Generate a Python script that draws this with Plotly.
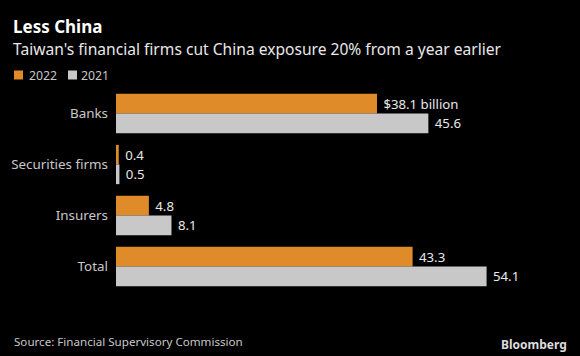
import plotly.graph_objects as go

categories = ["Banks", "Securities firms", "Insurers", "Total"]
values_2022 = [38.1, 0.4, 4.8, 43.3]
values_2021 = [45.6, 0.5, 8.1, 54.1]
labels_2022 = ["$38.1 billion", "0.4", "4.8", "43.3"]
labels_2021 = ["45.6", "0.5", "8.1", "54.1"]
series_names = ["2022", "2021"]

ORANGE = "#e08b2a"
GREY = "#c8c8c8"
FONT = "Noto Sans"

# plot area geometry (pixels)
L, T, W, H = 116, 88, 445, 204
def px(x):
    return (x - L) / W
def py(y):
    return (T + H - y) / H

fig = go.Figure()
for vals, labs, col, name in [(values_2022, labels_2022, ORANGE, series_names[0]),
                              (values_2021, labels_2021, GREY, series_names[1])]:
    fig.add_trace(go.Bar(
        y=categories, x=vals, orientation="h", name=name,
        marker=dict(color=col, line=dict(width=0)),
        text=[" " + t for t in labs], textposition="outside", cliponaxis=False,
        textfont=dict(color="#e8e8e8", size=13.2, family=FONT),
        showlegend=False,
    ))

fig.update_layout(
    width=580, height=356,
    paper_bgcolor="black", plot_bgcolor="black",
    margin=dict(l=L, r=580 - L - W, t=T, b=356 - T - H, pad=0),
    barmode="group", bargap=0.23, bargroupgap=0,
    font=dict(family=FONT, color="#c8c8c8"),
    showlegend=False,
    xaxis=dict(range=[0, W / 6.85], showgrid=False, zeroline=False, showticklabels=False,
               showline=False, ticks=""),
    yaxis=dict(autorange="reversed", showgrid=False, zeroline=False, showline=False,
               ticks="", ticklabelstandoff=7,
               tickfont=dict(size=13.4, color="#c8c8c8", family=FONT)),
)

# title / subtitle
fig.add_annotation(text="<b>Less China</b>", xref="paper", yref="paper",
                   x=px(12), y=py(26.5), xanchor="left", yanchor="middle", borderpad=0,
                   showarrow=False, font=dict(size=17, color="white", family=FONT))
fig.add_annotation(text="Taiwan's financial firms cut China exposure 20% from a year earlier",
                   xref="paper", yref="paper",
                   x=px(12), y=py(49), xanchor="left", yanchor="middle", borderpad=0,
                   showarrow=False, font=dict(size=15.6, color="#e8e8e8", family=FONT))

# legend (swatches + labels)
for sx, tx, col, name in [(14, 27, ORANGE, series_names[0]), (68, 79, GREY, series_names[1])]:
    fig.add_shape(type="rect", xref="paper", yref="paper",
                  x0=px(sx), x1=px(sx + 9), y0=py(79.5), y1=py(70.5),
                  fillcolor=col, line=dict(width=0))
    fig.add_annotation(text=name, xref="paper", yref="paper",
                       x=px(tx), y=py(75), xanchor="left", yanchor="middle",
                       showarrow=False, font=dict(size=12.3, color="#c8c8c8", family=FONT))

# footer
fig.add_annotation(text="Source: Financial Supervisory Commission",
                   xref="paper", yref="paper",
                   x=px(12), y=py(341), xanchor="left", yanchor="middle",
                   showarrow=False, font=dict(size=11.6, color="#c8c8c8", family=FONT))
fig.add_annotation(text="<b>Bloomberg</b>",
                   xref="paper", yref="paper",
                   x=px(569), y=py(344), xanchor="right", yanchor="middle",
                   showarrow=False, font=dict(size=12, color="#dcdcdc", family=FONT))

fig.write_html("out.html", config={"displayModeBar": False},
               post_script="document.body.style.margin='0';")
